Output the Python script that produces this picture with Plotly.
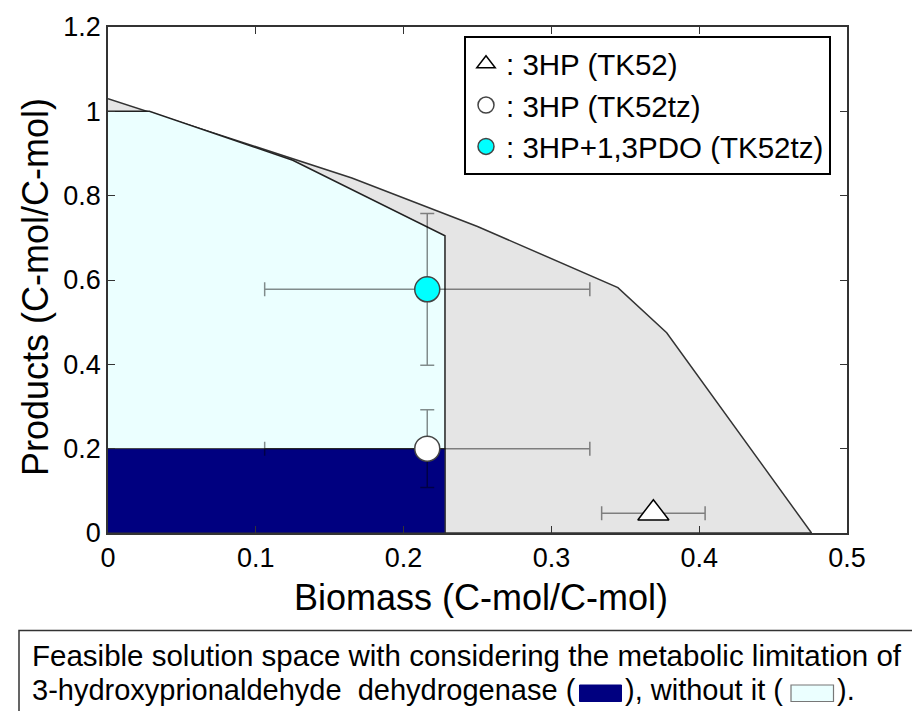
import plotly.graph_objects as go

# Feasible solution space (outer hull, grey)
hull_x = [0.0, 0.028, 0.125, 0.165, 0.25, 0.345, 0.378, 0.476, 0.0]
hull_y = [1.03, 0.998, 0.886, 0.842, 0.727, 0.582, 0.475, 0.0, 0.0]

# Space without the dehydrogenase limitation (light cyan)
free_x = [0.0, 0.028, 0.125, 0.228, 0.228, 0.0]
free_y = [1.0, 1.0, 0.884, 0.705, 0.0, 0.0]

# Space with the dehydrogenase limitation (navy)
lim_x = [0.0, 0.228, 0.228, 0.0]
lim_y = [0.0, 0.0, 0.2, 0.2]

# Measured yields
tk52_x, tk52_y, tk52_ex = [0.369], [0.047], [0.035]
tz_x, tz_y, tz_ex, tz_ey = [0.216], [0.2], [0.11], [0.092]
pdo_x, pdo_y, pdo_ex, pdo_ey = [0.216], [0.578], [0.11], [0.18]

names = [": 3HP (TK52)", ": 3HP (TK52tz)", ": 3HP+1,3PDO (TK52tz)"]

FONT = "Liberation Sans, Arial, sans-serif"
W, H = 912, 711
L, R, T, B = 108, 65, 27, 178
PW, PH = W - L - R, H - T - B


def px(xp):
    return (xp - L) / PW


def py(yp):
    return (H - B - yp) / PH


err_col = "rgba(0,0,0,0.45)"

fig = go.Figure()
fig.add_trace(go.Scatter(x=hull_x, y=hull_y, fill="toself", fillcolor="#e5e5e5",
                         mode="lines", line=dict(color="#333333", width=1.5),
                         showlegend=False, hoverinfo="skip"))
fig.add_trace(go.Scatter(x=free_x, y=free_y, fill="toself", fillcolor="#ebffff",
                         mode="lines", line=dict(color="#222222", width=1.5),
                         showlegend=False, hoverinfo="skip"))
fig.add_trace(go.Scatter(x=lim_x, y=lim_y, fill="toself", fillcolor="#000080",
                         mode="lines", line=dict(color="#333333", width=1),
                         showlegend=False, hoverinfo="skip"))

fig.add_trace(go.Scatter(
    x=tk52_x, y=tk52_y, mode="markers", name=names[0],
    marker=dict(symbol="triangle-up", size=27, color="white",
                line=dict(color="black", width=1.5)),
    error_x=dict(type="data", array=tk52_ex, color=err_col, thickness=1.5, width=7)))
fig.add_trace(go.Scatter(
    x=tz_x, y=tz_y, mode="markers", name=names[1],
    marker=dict(symbol="circle", size=25, color="white",
                line=dict(color="#444444", width=1.5)),
    error_x=dict(type="data", array=tz_ex, color=err_col, thickness=1.5, width=7),
    error_y=dict(type="data", array=tz_ey, color=err_col, thickness=1.5, width=7)))
fig.add_trace(go.Scatter(
    x=pdo_x, y=pdo_y, mode="markers", name=names[2],
    marker=dict(symbol="circle", size=25, color="#00ffff",
                line=dict(color="#444444", width=1.5)),
    error_x=dict(type="data", array=pdo_ex, color=err_col, thickness=1.5, width=7),
    error_y=dict(type="data", array=pdo_ey, color=err_col, thickness=1.5, width=7)))

axis_common = dict(showline=True, mirror="ticks", linecolor="#333333", linewidth=1.5,
                   ticks="inside", ticklen=7, tickcolor="#333333", tickwidth=1.2,
                   showgrid=False, zeroline=False,
                   tickfont=dict(family=FONT, size=27, color="black"))

fig.update_layout(
    width=W, height=H, margin=dict(l=L, r=R, t=T, b=B),
    paper_bgcolor="white", plot_bgcolor="white",
    font=dict(family=FONT, color="black"),
    xaxis=dict(range=[0, 0.5], dtick=0.1, tick0=0, **axis_common),
    yaxis=dict(range=[0, 1.2], dtick=0.2, tick0=0, **axis_common),
    legend=dict(x=px(464), y=py(36), xanchor="left", yanchor="top",
                bgcolor="white", bordercolor="black", borderwidth=2,
                font=dict(family=FONT, size=29.5, color="black"),
                itemsizing="trace", tracegroupgap=0),
    showlegend=True,
)

# Axis titles
title_font = dict(family=FONT, size=36, color="black")
fig.add_annotation(xref="paper", yref="paper", x=px(481), y=py(597), xanchor="center",
                   yanchor="middle", showarrow=False, font=title_font,
                   text="Biomass (C-mol/C-mol)")
fig.add_annotation(xref="paper", yref="paper", x=px(36), y=py(287), xanchor="center",
                   yanchor="middle", showarrow=False, font=title_font, textangle=-90,
                   text="Products (C-mol/C-mol)")

# Caption box and text below the chart
fig.add_shape(type="rect", xref="paper", yref="paper",
              x0=px(19), x1=px(918), y0=py(716), y1=py(630.5),
              line=dict(color="#333333", width=1.5), fillcolor="rgba(0,0,0,0)")

cap_font = dict(family=FONT, size=29, color="black")
fig.add_annotation(xref="paper", yref="paper", x=px(30), y=py(655), xanchor="left",
                   yanchor="middle", showarrow=False,
                   font=dict(family=FONT, size=29.5, color="black"),
                   text="Feasible solution space with considering the metabolic limitation of")
fig.add_annotation(xref="paper", yref="paper", x=px(30), y=py(690), xanchor="left",
                   yanchor="middle", showarrow=False, font=cap_font,
                   text="3-hydroxyprionaldehyde  dehydrogenase (")
fig.add_annotation(xref="paper", yref="paper", x=px(623), y=py(690), xanchor="left",
                   yanchor="middle", showarrow=False, font=cap_font,
                   text="), without it (")
fig.add_annotation(xref="paper", yref="paper", x=px(835), y=py(690), xanchor="left",
                   yanchor="middle", showarrow=False, font=cap_font,
                   text=").")
fig.add_shape(type="rect", xref="paper", yref="paper",
              x0=px(579.5), x1=px(621.5), y0=py(701.5), y1=py(685),
              line=dict(color="#000080", width=1), fillcolor="#000080")
fig.add_shape(type="rect", xref="paper", yref="paper",
              x0=px(791), x1=px(833.5), y0=py(701.5), y1=py(685),
              line=dict(color="#777777", width=1.2), fillcolor="#ebffff")

fig.write_html("out.html")
